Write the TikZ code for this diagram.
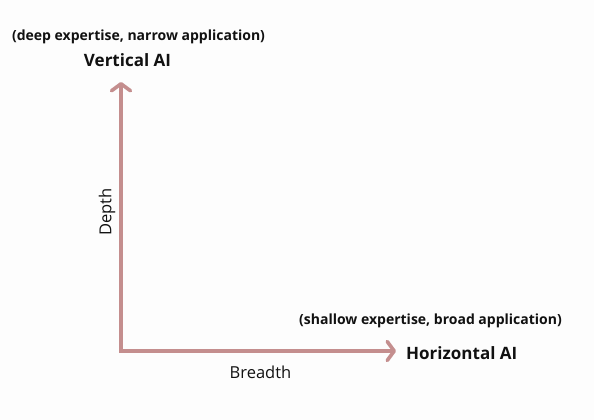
\documentclass[tikz,border=0pt]{standalone}
\usepackage{fontspec}
\setmainfont{Open Sans}
\usetikzlibrary{arrows.meta}
\definecolor{axiscol}{HTML}{C48E8E}
\definecolor{bgcol}{HTML}{FDFDFD}
\definecolor{txtcol}{HTML}{111111}
\tikzset{
  axis/.style={draw=axiscol, line width=3.6pt, line join=miter,
    {Straight Barb[round,length=7pt,width=19pt]}-{Straight Barb[round,length=7pt,width=19pt]}},
  sublabel/.style={font=\bfseries\fontsize{14}{16}\selectfont, text=txtcol, inner sep=0pt},
  mainlabel/.style={font=\bfseries\fontsize{17}{19}\selectfont, text=txtcol, inner sep=0pt},
  axlabel/.style={font=\fontsize{16.5}{18}\selectfont, text=txtcol, inner sep=0pt}
}
\begin{document}
\begin{tikzpicture}[x=1pt,y=-1pt]
\fill[bgcol] (0,0) rectangle (594,420);
\useasboundingbox (0,0) rectangle (594,420);
\coordinate (o) at (121,351);
\coordinate (ytip) at (121,82);
\coordinate (xtip) at (396,351);
\draw[axis] (ytip) -- (o) -- (xtip);
\node[sublabel] (vsub) at (138.5,36.5) {(deep expertise, narrow application)};
\node[mainlabel] (vmain) at (127.5,60.5) {Vertical AI};
\node[sublabel] (hsub) at (430.5,320.5) {(shallow expertise, broad application)};
\node[mainlabel, anchor=west] (hmain) at (406,353) {Horizontal AI};
\node[axlabel] (bl) at (260.5,372) {Breadth};
\node[axlabel, rotate=90] (dl) at (107,212) {Depth};
\end{tikzpicture}
\end{document}
